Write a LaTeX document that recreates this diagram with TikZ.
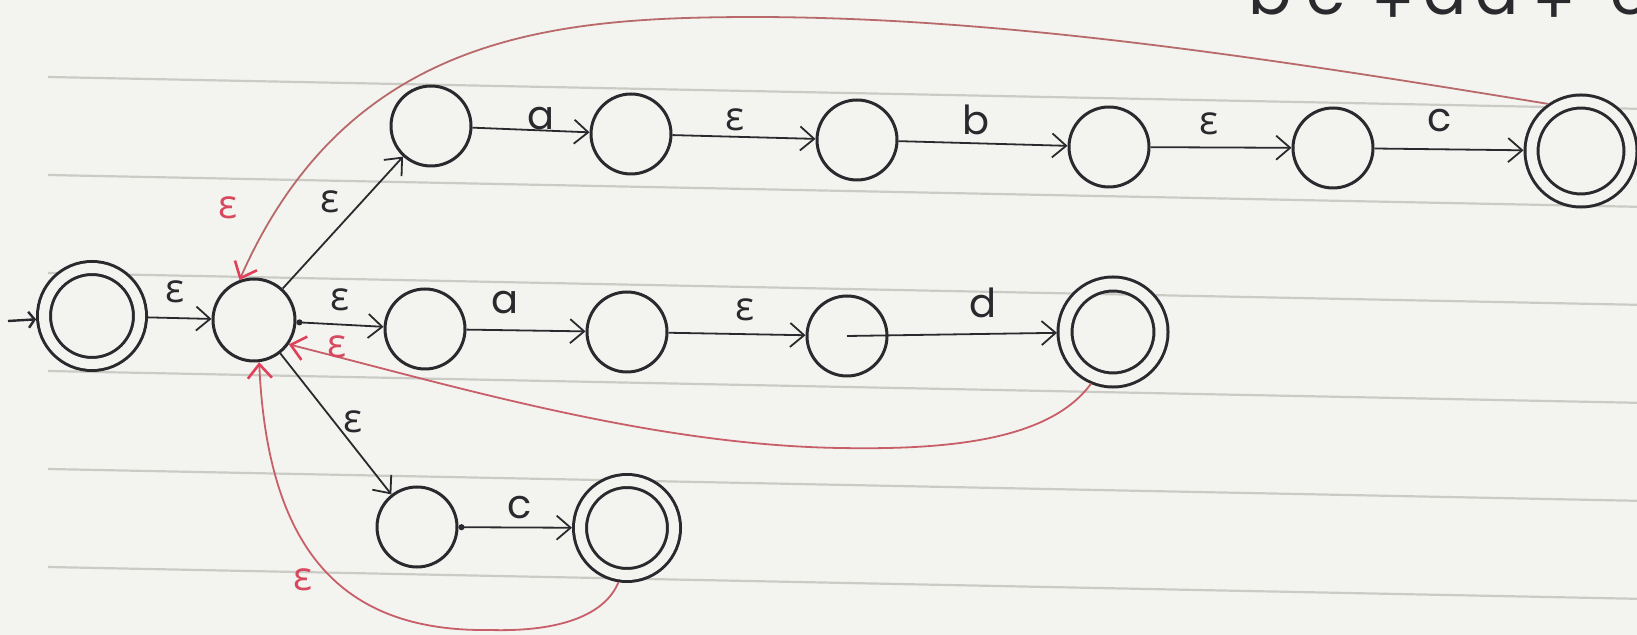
\documentclass[tikz,border=0pt]{standalone}
\usepackage{fontspec}
\setmainfont{Poppins}
\newfontfamily\grk{Open Sans}
\usetikzlibrary{arrows.meta}
\definecolor{paper}{HTML}{F3F3EF}
\definecolor{rulec}{HTML}{CBCBC6}
\definecolor{redtop}{HTML}{B86A6A}
\definecolor{redline}{HTML}{C85E68}
\definecolor{redtip}{HTML}{E0405A}
\definecolor{redtext}{HTML}{D8485E}
\definecolor{ink}{HTML}{2A2A2E}
\newcommand{\gl}[1]{\makebox[0pt]{#1}}
\newcommand{\lowplus}{\makebox[0pt]{\raisebox{-5pt}{+}}}
\begin{document}
\begin{tikzpicture}[x=0.5pt,y=-0.5pt,
  state/.style={circle,draw=ink,line width=1.5pt,minimum size=40pt,inner sep=0pt},
  accept/.style={circle,draw=ink,line width=1.5pt,minimum size=48pt,inner sep=0pt,double=paper,double distance=5pt,outer sep=4pt},
  tr/.style={draw=ink,line width=0.9pt,-{Straight Barb[length=7pt,width=12pt,line width=0.9pt]}},
  back/.style={draw=redline,line width=0.9pt,-{Straight Barb[length=7pt,width=12pt,color=redtip,line width=1.3pt]}},
  lab/.style={font=\fontsize{20}{22}\selectfont,text=ink,inner sep=0pt},
  eps/.style={font=\grk\fontsize{20}{22}\selectfont,text=ink,inner sep=0pt},
  reps/.style={eps,text=redtext},
  paperline/.style={draw=rulec,line width=1.1pt}]
\useasboundingbox (0,0) rectangle (1637,635);
\fill[paper] (0,0) rectangle (1637,635);
% ruled paper
\foreach \i in {0,...,5}
  \draw[paperline] (48,{77+98*\i}) -- (1637,{77+98*\i+31.8});
% partially visible heading (cut off at the top edge, as in the reference)
\begin{scope}
  \clip (0,0) rectangle (1637,635);
  \node[font=\fontsize{32}{34}\selectfont,text=ink,anchor=base west,inner sep=0pt] (expr) at (1270,15)
    {\gl{b}\hspace{28pt}\gl{c}\hspace{33.5pt}\lowplus\hspace{26pt}\gl{a}\hspace{26pt}\gl{d}\hspace{28.5pt}\lowplus\hspace{38pt}\gl{c}};
\end{scope}
% states
\node[accept] (q0) at (92,316) {};
\node[state,minimum size=41pt] (q1) at (254,320) {};
\node[state] (q2) at (431,126) {};
\node[state] (q3) at (631,134) {};
\node[state] (q4) at (857,140) {};
\node[state] (q5) at (1109,147) {};
\node[state] (q6) at (1333,148) {};
\node[accept,minimum size=49.5pt] (q7) at (1581,151) {};
\node[state] (q8) at (425,329) {};
\node[state] (q9) at (627,332) {};
\node[state] (q10) at (847,336) {};
\node[accept,double distance=5.5pt] (q11) at (1113,332) {};
\node[state] (q12) at (417,527) {};
\node[accept,minimum size=47pt] (q13) at (627,528) {};
% start marker
\coordinate (s) at (8,321);
\draw[draw=ink,line width=1.2pt,-{Straight Barb[length=3pt,width=8pt,line width=1.2pt]}] (s) -- (q0);
% black transitions
\draw[tr] (q0) -- (q1);
\draw[tr] (q1) -- (q2);
\draw[tr,{Circle[length=3pt]}-{Straight Barb[length=7pt,width=12pt,line width=0.9pt]}] (q1) -- (q8);
\draw[tr] (q1) -- (q12);
\draw[tr] (q2) -- (q3);
\draw[tr] (q3) -- (q4);
\draw[tr] (q4) -- (q5);
\draw[tr] (q5) -- (q6);
\draw[tr] (q6) -- (q7);
\draw[tr] (q8) -- (q9);
\draw[tr] (q9) -- (q10);
\draw[tr] (q10.center) -- (q11);
\draw[tr,{Circle[length=3pt]}-{Straight Barb[length=7pt,width=12pt,line width=0.9pt]}] (q12) -- (q13);
% red epsilon back edges
\draw[back,draw=redtop] (q7.125) .. controls (1250,55) and (1000,18) .. (760,17) .. controls (560,17) and (350,30) .. (q1.110);
\draw[back] (q11.247) .. controls (1050,440) and (950,450) .. (840,448) .. controls (650,445) and (450,385) .. (q1.-35);
\draw[back] (q13.261) .. controls (605,615) and (560,632) .. (490,630) .. controls (350,632) and (268,560) .. (q1.277);
% labels
\node[eps] (l01) at (175,292) {ε};
\node[eps] (l12) at (330,202) {ε};
\node[eps] (l18) at (340,300) {ε};
\node[eps] (l112) at (353,422) {ε};
\node[lab] (l23) at (541,119) {a};
\node[eps] (l34) at (735,120) {ε};
\node[lab] (l45) at (976,120) {b};
\node[eps] (l56) at (1209,124) {ε};
\node[lab] (l67) at (1440,121) {c};
\node[lab] (l89) at (505,303) {a};
\node[eps] (l910) at (745,310) {ε};
\node[lab] (l1011) at (983,303) {d};
\node[lab] (l1213) at (520,508) {c};
\node[reps] (r1) at (228,208) {ε};
\node[reps] (r2) at (337,347) {ε};
\node[reps] (r3) at (303,580) {ε};
\end{tikzpicture}
\end{document}
